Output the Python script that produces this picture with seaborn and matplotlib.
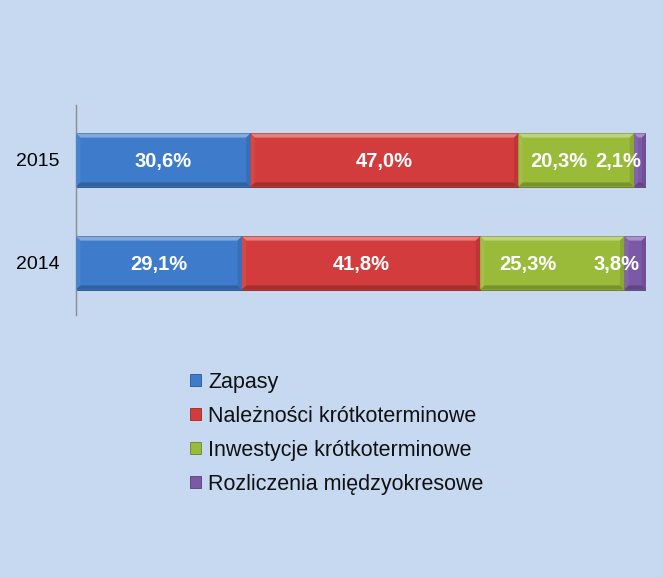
import matplotlib
matplotlib.use("Agg")
import matplotlib.pyplot as plt
import matplotlib.transforms as mtransforms
import seaborn as sns
import pandas as pd
import numpy as np
from matplotlib.patches import Patch, Polygon
from matplotlib.colors import to_rgb

# ---- data ----
years = ["2015", "2014"]
series = ["Zapasy", "Należności krótkoterminowe",
          "Inwestycje krótkoterminowe", "Rozliczenia międzyokresowe"]
zapasy = [30.6, 29.1]
naleznosci = [47.0, 41.8]
inwestycje = [20.3, 25.3]
rozliczenia = [2.1, 3.8]

# ---- style ----
colors = ["#3e7ccb", "#d23c3c", "#9abb3a", "#7b59a7"]
bg = "#c6d9f0"
# label nudges (data units) used to avoid overlapping labels, as in the original
label_shift = {(2, 0): -3.0, (3, 0): -3.9, (2, 1): -4.2, (3, 1): -3.2}


def mix(c, other, t):
    a = np.array(to_rgb(c))
    b = np.array(to_rgb(other))
    return tuple(a * (1 - t) + b * t)


sns.set_theme(style="white")
plt.rcParams['font.family'] = ['Liberation Sans', 'DejaVu Sans']

fig = plt.figure(figsize=(6.63, 5.77), dpi=100, facecolor=bg)
ax = fig.add_axes([76 / 663, 1 - 315 / 577, 570 / 663, 210 / 577])
ax.set_facecolor(bg)

values = np.array([zapasy, naleznosci, inwestycje, rozliczenia])
cum = np.cumsum(values, axis=0)

layers = {}
for i in reversed(range(len(series))):
    df = pd.DataFrame({"year": years, "value": cum[i]})
    n_before = len(ax.patches)
    sns.barplot(data=df, x="value", y="year", order=years, orient="h",
                color=colors[i], saturation=1, width=0.515, ax=ax,
                edgecolor=mix(colors[i], "black", 0.3), linewidth=0.6)
    layers[i] = list(ax.patches)[n_before:]

ax.set_xlim(0, 100)
ax.set_ylim(1.505, -0.534)

# bevel effect on each visible segment (geometry taken from the drawn bars)
dx = 0.75   # data units (~4 px)
dy = 0.04   # data units (~4 px)
for i in range(len(series)):
    for bar in layers[i]:
        j = int(round(bar.get_y() + bar.get_height() / 2))
        x1 = bar.get_width()
        x0 = cum[i - 1, j] if i > 0 else 0.0
        y0 = bar.get_y()
        y1 = y0 + bar.get_height()
        c = colors[i]
        d = min(dx, (x1 - x0) / 3)
        top = Polygon([(x0, y0), (x1, y0), (x1 - d, y0 + dy), (x0 + d, y0 + dy)],
                      closed=True, facecolor=mix(c, "white", 0.35), edgecolor="none", zorder=3)
        bottom = Polygon([(x0, y1), (x1, y1), (x1 - d, y1 - dy), (x0 + d, y1 - dy)],
                         closed=True, facecolor=mix(c, "black", 0.22), edgecolor="none", zorder=3)
        left = Polygon([(x0, y0), (x0 + d, y0 + dy), (x0 + d, y1 - dy), (x0, y1)],
                       closed=True, facecolor=mix(c, "white", 0.06), edgecolor="none", zorder=3)
        right = Polygon([(x1, y0), (x1 - d, y0 + dy), (x1 - d, y1 - dy), (x1, y1)],
                        closed=True, facecolor=mix(c, "black", 0.1), edgecolor="none", zorder=3)
        for p in (top, bottom, left, right):
            ax.add_patch(p)

text_tr = mtransforms.offset_copy(ax.transData, fig=fig, y=-7.5, units="dots")
for i in range(len(series)):
    for j in range(len(years)):
        v = values[i, j]
        xc = cum[i, j] - v / 2 + label_shift.get((i, j), 0)
        ax.text(xc, j, f"{v:.1f}".replace(".", ",") + "%", ha="center", va="baseline",
                color="white", fontsize=14.5, fontweight="bold", transform=text_tr, zorder=5)

ax.set_xticks([])
ax.set_xlabel("")
ax.set_ylabel("")
ax.tick_params(axis="y", length=0, pad=12, labelsize=14, labelcolor="black")
for s in ["top", "right", "bottom"]:
    ax.spines[s].set_visible(False)
ax.spines["left"].set_color("#8c8c8c")
ax.spines["left"].set_linewidth(1)

handles = [Patch(facecolor=c, edgecolor=mix(c, "black", 0.3), linewidth=0.6) for c in colors]
fig.legend(handles, series, loc="upper left", bbox_to_anchor=(190 / 663, 1 - 372 / 577),
           frameon=False, fontsize=15.5, handlelength=0.5, handleheight=0.5,
           handletextpad=0.35, labelspacing=0.6, borderpad=0, borderaxespad=0,
           labelcolor="#111111")

fig.savefig("out.png", dpi=100, facecolor=bg)
